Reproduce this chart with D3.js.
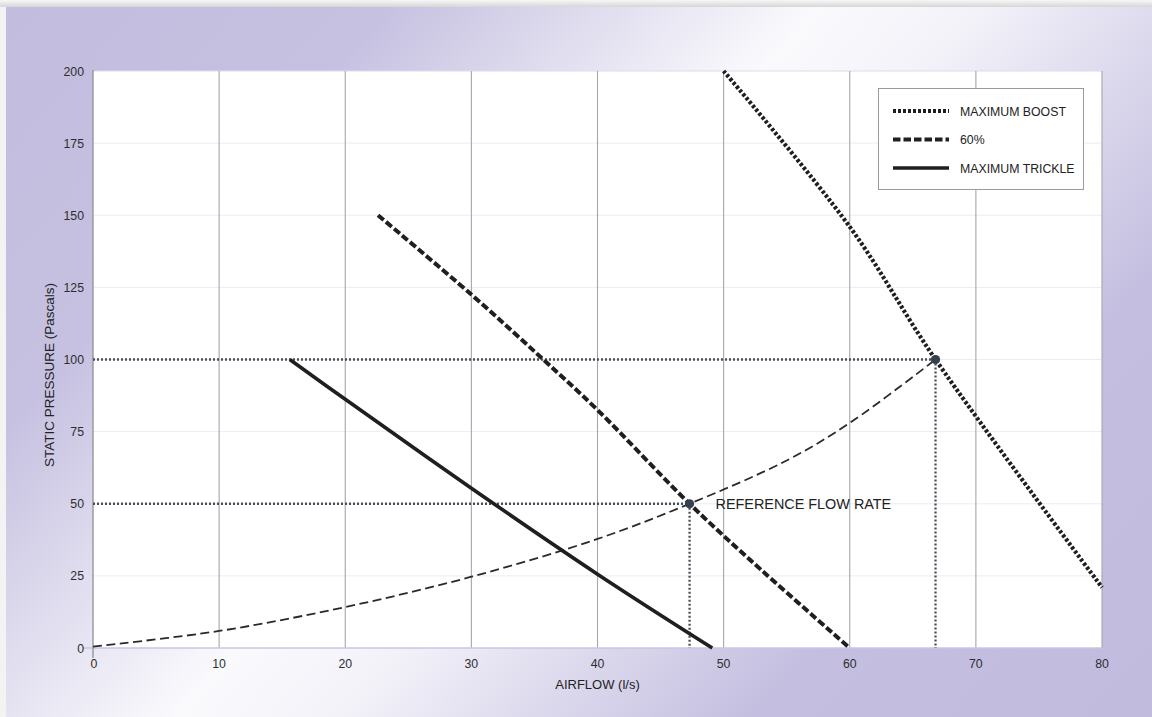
<!DOCTYPE html>
<html><head><meta charset="utf-8">
<script src="https://cdn.jsdelivr.net/npm/d3@7"></script>
<style>
html,body{margin:0;padding:0;background:#fff;}
svg{display:block;font-family:"Liberation Sans",Arial,Helvetica,sans-serif;}
</style></head>
<body><svg id="c" width="1152" height="717"></svg>
<script>
// ---- data ----
const xTicks = [0,10,20,30,40,50,60,70,80];
const yTicks = [0,25,50,75,100,125,150,175,200];
const seriesNames = ["MAXIMUM BOOST","60%","MAXIMUM TRICKLE"];
const boostX = [50,60,66.8,80];
const boostY = [200,146,100,21];
const sixtyX = [22.6,30,35.7,40,47.3,53,60];
const sixtyY = [150,122.5,100,82.5,50,27,0];
const trickleX = [15.6,20,30,40,49.1];
const trickleY = [100,86.2,55.4,25.6,0];
const systemX = [0,10,20,30,40,47.3,55,60,66.8];
const systemY = [0.5,5.9,14.2,24.7,37.8,50,65,78,100];
const refPointsX = [47.3,66.8];
const refPointsY = [50,100];
const refLabel = "REFERENCE FLOW RATE";
const xTitle = "AIRFLOW (l/s)";
const yTitle = "STATIC PRESSURE (Pascals)";

// ---- setup ----
const svg = d3.select("#c");
const W = 1152, H = 717;
const x = d3.scaleLinear().domain([0,80]).range([93,1102]);
const y = d3.scaleLinear().domain([0,200]).range([648,71]);

const defs = svg.append("defs");
const g1 = defs.append("linearGradient").attr("id","bg").attr("gradientUnits","userSpaceOnUse")
  .attr("x1",0).attr("y1",0).attr("x2",1332*0.74).attr("y2",1332*0.67);
[[0,"#c2bcde"],[0.22,"#c6c1e1"],[0.35,"#e2e0f0"],[0.46,"#fafafd"],[0.55,"#f3f2f9"],[0.66,"#dcd9ed"],[0.78,"#c4bfe0"],[1,"#c1bbdd"]]
  .forEach(s=>g1.append("stop").attr("offset",s[0]).attr("stop-color",s[1]));
const g2 = defs.append("linearGradient").attr("id","shadow").attr("x1",0).attr("y1",0).attr("x2",0).attr("y2",1);
g2.append("stop").attr("offset",0).attr("stop-color","#f7f7f7");
g2.append("stop").attr("offset",1).attr("stop-color","#d6d6d6");

svg.append("rect").attr("x",0).attr("y",0).attr("width",W).attr("height",H).attr("fill","#f3f3f3");
svg.append("rect").attr("x",6).attr("y",7).attr("width",W-6).attr("height",H-7).attr("fill","url(#bg)");
svg.append("rect").attr("x",0).attr("y",0).attr("width",W).attr("height",7).attr("fill","url(#shadow)");

// plot area
svg.append("rect").attr("x",x(0)).attr("y",y(200)).attr("width",x(80)-x(0)).attr("height",y(0)-y(200)).attr("fill","#fff");

// horizontal gridlines
svg.append("g").selectAll("line").data(yTicks.filter(d=>d>0)).join("line")
  .attr("x1",x(0)).attr("x2",x(80)).attr("y1",d=>y(d)).attr("y2",d=>y(d))
  .attr("stroke",d=>d===200?"#dddbee":"#ecebf4").attr("stroke-width",1);
// vertical gridlines
svg.append("g").selectAll("line").data(xTicks.filter(d=>d>0)).join("line")
  .attr("x1",d=>x(d)).attr("x2",d=>x(d)).attr("y1",y(200)).attr("y2",y(0))
  .attr("stroke","#a5a5ae").attr("stroke-width",1.1);
// baseline + axis
svg.append("line").attr("x1",x(0)-10).attr("x2",x(80)).attr("y1",y(0)).attr("y2",y(0))
  .attr("stroke","#c9c5e3").attr("stroke-width",1.5);
svg.append("line").attr("x1",x(0)).attr("x2",x(0)).attr("y1",y(200)-1).attr("y2",y(0)+10)
  .attr("stroke","#8f8f99").attr("stroke-width",1.3);

// tick labels
svg.append("g").selectAll("text").data(yTicks).join("text")
  .attr("x",84).attr("y",d=>y(d)+4.5).attr("text-anchor","end")
  .attr("font-size",12.3).attr("fill","#2e2e2e").text(d=>d);
svg.append("g").selectAll("text").data(xTicks).join("text")
  .attr("x",d=>x(d)+ (d===0?1:0)).attr("y",668).attr("text-anchor","middle")
  .attr("font-size",12.3).attr("fill","#2e2e2e").text(d=>d);

// axis titles
svg.append("text").attr("x",(x(0)+x(80))/2).attr("y",689).attr("text-anchor","middle")
  .attr("font-size",13).attr("fill","#222").text(xTitle);
svg.append("text").attr("transform","translate(54,375) rotate(-90)").attr("text-anchor","middle")
  .attr("font-size",13.5).attr("fill","#222").text(yTitle);

// reference dotted lines
const refG = svg.append("g").attr("stroke","#4a4f58").attr("stroke-width",2.3).attr("stroke-dasharray","2,2").attr("fill","none");
refPointsX.forEach((px,i)=>{
  refG.append("line").attr("x1",x(0)).attr("x2",x(px)).attr("y1",y(refPointsY[i])).attr("y2",y(refPointsY[i]));
  refG.append("line").attr("x1",x(px)).attr("x2",x(px)).attr("y1",y(refPointsY[i])).attr("y2",y(0));
});

const line = d3.line().x(d=>x(d[0])).y(d=>y(d[1])).curve(d3.curveCatmullRom.alpha(0.5));
const zip = (a,b)=>a.map((v,i)=>[v,b[i]]);

// system curve
svg.append("path").attr("d",line(zip(systemX,systemY))).attr("fill","none")
  .attr("stroke","#2a2a2a").attr("stroke-width",1.8).attr("stroke-dasharray","9,4.5");

const styles = [
  {dash:"3,2", w:4.2},
  {dash:"7.5,3", w:4},
  {dash:null, w:3.6}
];
const data = [zip(boostX,boostY), zip(sixtyX,sixtyY), zip(trickleX,trickleY)];
data.forEach((d,i)=>{
  svg.append("path").attr("d",line(d)).attr("fill","none").attr("stroke","#1f1f1f")
    .attr("stroke-width",styles[i].w).attr("stroke-dasharray",styles[i].dash);
});

// markers
svg.append("g").selectAll("circle").data(refPointsX).join("circle")
  .attr("cx",d=>x(d)).attr("cy",(d,i)=>y(refPointsY[i])).attr("r",4.6).attr("fill","#36414f");

// label
svg.append("text").attr("x",x(refPointsX[0])+26).attr("y",y(refPointsY[0])+5)
  .attr("font-size",14.4).attr("fill","#222").text(refLabel);

// legend
const lg = svg.append("g");
lg.append("rect").attr("x",878.5).attr("y",88.5).attr("width",205).attr("height",101)
  .attr("fill","#fff").attr("stroke","#9a9a9a").attr("stroke-width",1);
seriesNames.forEach((n,i)=>{
  const yy = 111 + i*28.5;
  lg.append("line").attr("x1",893).attr("x2",949).attr("y1",yy).attr("y2",yy)
    .attr("stroke","#1f1f1f").attr("stroke-width",styles[i].w).attr("stroke-dasharray",styles[i].dash);
  lg.append("text").attr("x",960).attr("y",yy+4.5).attr("font-size",12.3).attr("fill","#222").text(n);
});
</script></body></html>
